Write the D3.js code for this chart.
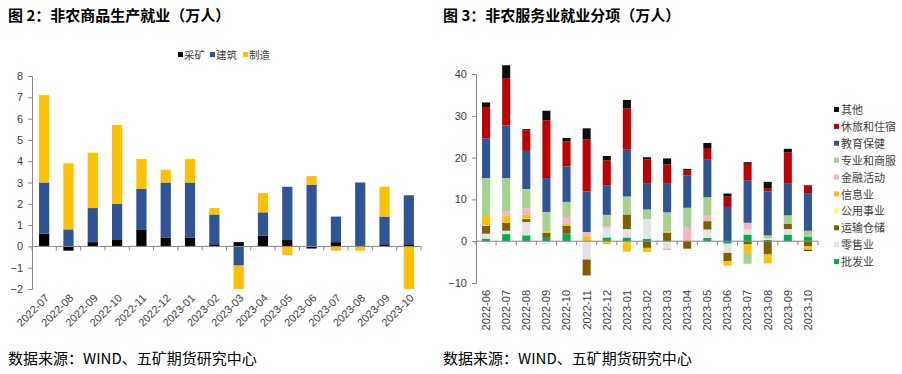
<html>
<head>
<meta charset="utf-8">
<script src="https://cdn.jsdelivr.net/npm/d3@7"></script>
<style>
  body { margin: 0; background: #fff; }
  text { font-family: "Noto Sans CJK SC", "Noto Sans", sans-serif; }
</style>
</head>
<body>
<script>
// ---- 图2 data: 非农商品生产就业 (万人)
var months2 = ["2022-07","2022-08","2022-09","2022-10","2022-11","2022-12","2023-01","2023-02",
               "2023-03","2023-04","2023-05","2023-06","2023-07","2023-08","2023-09","2023-10"];
var mining  = [0.6,-0.2,0.2,0.3,0.8,0.4,0.4,0.1, 0.2,0.5,0.3,-0.1,0.2,0.0,0.1,0.1];
var constr  = [2.4,0.8,1.6,1.7,1.9,2.6,2.6,1.4,-0.9,1.1,2.5,2.9,1.2,3.0,1.3,2.3];
var manuf   = [4.1,3.1,2.6,3.7,1.4,0.6,1.1,0.3,-1.1,0.9,-0.4,0.4,-0.2,-0.2,1.4,-2.0];
var names2  = ["采矿","建筑","制造"];
var yTicks2 = [-2,-1,0,1,2,3,4,5,6,7,8];

// ---- 图3 data: 非农服务业就业分项 (万人)
var months3 = ["2022-06","2022-07","2022-08","2022-09","2022-10","2022-11","2022-12","2023-01","2023-02",
               "2023-03","2023-04","2023-05","2023-06","2023-07","2023-08","2023-09","2023-10"];
var wholesale = [0.6,1.7,1.4,0.8,1.8,0.0,0.9,0.9,0.6,0.0,0.0,0.8,-0.6,1.6,0.3,1.6,1.0];
var retail    = [1.2,0.8,3.2,-0.6,0.0,-4.4,2.3,2.0,4.7,-1.7,0.0,2.0,-2.2,1.2,0.4,1.3,0.0];
var transport = [1.9,2.0,0.7,1.2,1.9,-3.8,0.0,3.5,-1.6,2.0,-1.8,2.0,-2.0,-0.8,-3.2,1.3,-1.2];
var utilities = [0.1,0.1,0.1,0.0,0.0,0.0,0.0,0.0,0.0,0.0,0.0,0.0,0.0,0.0,0.0,0.0,0.0];
var info      = [2.2,1.4,0.9,0.3,0.4,1.2,-0.7,-2.5,-1.0,0.3,0.3,0.0,-1.0,-2.0,-2.1,0.0,-0.9];
var finance   = [0.0,1.2,1.6,0.0,1.7,1.0,0.4,0.0,0.0,-0.4,2.9,1.3,0.0,1.6,0.0,0.0,0.0];
var profbiz   = [9.1,7.9,4.6,4.7,3.6,0.0,2.7,4.3,2.3,4.6,4.8,4.4,0.0,-2.6,0.7,2.0,1.5];
var eduhealth = [9.5,12.6,9.1,8.1,8.5,9.7,7.1,11.2,6.3,7.0,7.7,9.0,8.2,10.2,10.5,7.7,9.0];
var leisure   = [7.5,11.3,4.9,13.8,6.0,12.4,5.9,9.9,5.7,4.5,1.2,2.8,2.5,3.9,0.8,7.4,1.9];
var other     = [1.1,3.1,0.3,2.3,0.8,2.7,1.1,2.0,0.5,1.4,0.4,1.2,0.7,0.4,1.5,0.8,-0.2];
var names3 = ["批发业","零售业","运输仓储","公用事业","信息业","金融活动","专业和商服","教育保健","休旅和住宿","其他"];
var yTicks3 = [-10,0,10,20,30,40];

var colors2 = ["#000000","#2F5597","#FFC000"];
var colors3 = ["#00B050","#E3E3E3","#7F6000","#FFFF66","#FFC000","#F4B6C2","#A9D18E","#2F5597","#C00000","#0D0D0D"];

var svg = d3.select("body").append("svg")
  .attr("width", 902).attr("height", 374);

// titles & sources
svg.append("text").attr("x", 8).attr("y", 21).attr("font-size", 15).attr("font-weight", "bold")
  .text("图 2：非农商品生产就业（万人）");
svg.append("text").attr("x", 443).attr("y", 21).attr("font-size", 15).attr("font-weight", "bold")
  .text("图 3：非农服务业就业分项（万人）");
svg.append("text").attr("x", 8).attr("y", 364).attr("font-size", 15)
  .text("数据来源：WIND、五矿期货研究中心");
svg.append("text").attr("x", 443).attr("y", 364).attr("font-size", 15)
  .text("数据来源：WIND、五矿期货研究中心");

function drawChart(opt) {
  var g = svg.append("g");
  var x = d3.scaleBand().domain(opt.months).range(opt.xr).paddingInner(opt.pad).paddingOuter(opt.pad / 2);
  var y = d3.scaleLinear().domain(opt.yd).range(opt.yr);

  var rows = opt.months.map(function(m, i) {
    var r = { month: m };
    opt.series.forEach(function(s, k) { r[opt.names[k]] = s[i]; });
    return r;
  });
  var stack = d3.stack().keys(opt.names).offset(d3.stackOffsetDiverging);
  var layers = stack(rows);

  g.selectAll("g.layer").data(layers).enter().append("g")
    .attr("fill", function(d, i) { return opt.colors[i]; })
    .selectAll("rect").data(function(d) { return d; }).enter().append("rect")
    .attr("x", function(d) { return x(d.data.month); })
    .attr("width", x.bandwidth())
    .attr("y", function(d) { return y(Math.max(d[0], d[1])); })
    .attr("height", function(d) { return Math.abs(y(d[0]) - y(d[1])); });

  // y axis
  var ya = g.append("g").attr("transform", "translate(" + opt.xr[0] + ",0)")
    .call(d3.axisLeft(y).tickValues(opt.yTicks).tickSize(4).tickPadding(5));
  ya.select(".domain").attr("stroke", "#868686");
  ya.selectAll(".tick line").attr("stroke", "#868686");
  ya.selectAll(".tick text").attr("fill", "#404040").attr("font-size", 11)
    .style("font-family", "'Liberation Sans', sans-serif");

  // x axis at 0 with ticks at category boundaries
  var y0 = y(0);
  g.append("line").attr("x1", opt.xr[0]).attr("x2", opt.xr[1]).attr("y1", y0).attr("y2", y0)
    .attr("stroke", "#868686");
  var bounds = opt.months.map(function(m) { return x(m) - (x.step() - x.bandwidth()) / 2; });
  bounds.push(opt.xr[1]);
  g.selectAll("line.xt").data(bounds).enter().append("line")
    .attr("x1", function(d) { return d; }).attr("x2", function(d) { return d; })
    .attr("y1", y0).attr("y2", y0 + 4).attr("stroke", "#868686");

  // category labels
  g.selectAll("text.xl").data(opt.months).enter().append("text")
    .attr("font-size", 11).attr("fill", "#404040").attr("text-anchor", "end")
    .style("font-family", "'Liberation Sans', sans-serif")
    .attr("transform", function(d) {
      var cx = x(d) + x.bandwidth() / 2;
      return "translate(" + (cx + opt.lx) + "," + opt.ly + ") rotate(" + opt.rot + ")";
    })
    .attr("dy", "0.35em")
    .text(function(d) { return d; });
  return g;
}

drawChart({ months: months2, series: [mining, constr, manuf], names: names2, colors: colors2,
  xr: [32, 421], yd: [-2, 8], yr: [289, 76], pad: 0.58, yTicks: yTicks2,
  lx: 3, ly: 296, rot: -45 });

drawChart({ months: months3,
  series: [wholesale, retail, transport, utilities, info, finance, profbiz, eduhealth, leisure, other],
  names: names3, colors: colors3,
  xr: [476, 818], yd: [-10, 40], yr: [283, 74], pad: 0.6, yTicks: yTicks3,
  lx: 0, ly: 290, rot: -90 });

// legend 图2
var leg2 = svg.append("g");
var lx2 = [178, 210, 243];
names2.forEach(function(n, i) {
  leg2.append("rect").attr("x", lx2[i]).attr("y", 52).attr("width", 5).attr("height", 5).attr("fill", colors2[i]);
  leg2.append("text").attr("x", lx2[i] + 6).attr("y", 59).attr("font-size", 10.5).attr("fill", "#404040").text(n);
});

// legend 图3 (reverse order, top to bottom)
var leg3 = svg.append("g");
names3.slice().reverse().forEach(function(n, j) {
  var i = names3.length - 1 - j;
  var yy = 110 + j * 16.9;
  leg3.append("rect").attr("x", 834).attr("y", yy - 3).attr("width", 5).attr("height", 5).attr("fill", colors3[i]);
  leg3.append("text").attr("x", 841).attr("y", yy + 4).attr("font-size", 11).attr("fill", "#404040").text(n);
});
</script>
</body>
</html>
